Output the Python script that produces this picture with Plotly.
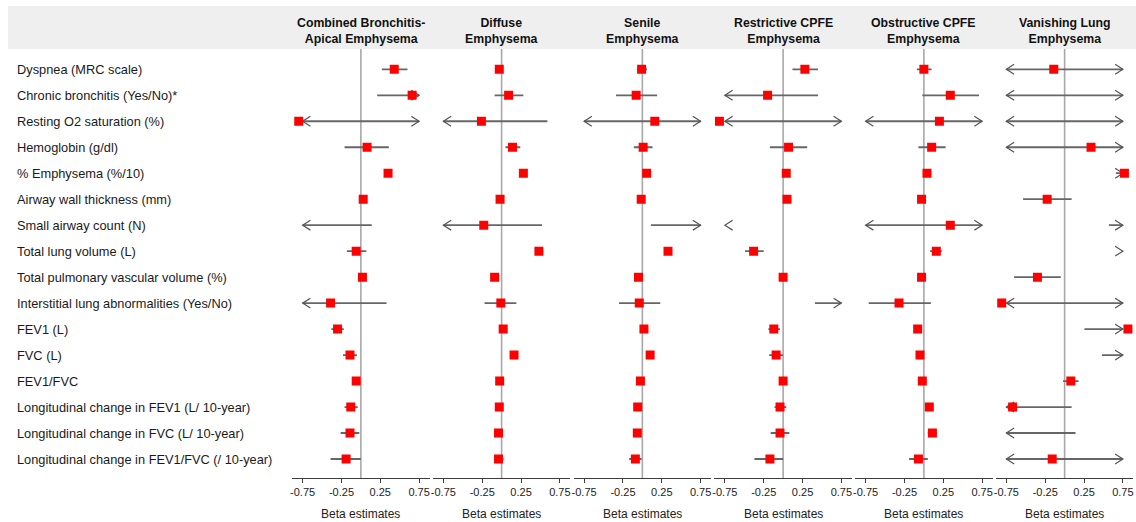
import plotly.graph_objects as go

# Outcome rows (top to bottom)
outcomes = [
    "Dyspnea (MRC scale)",
    "Chronic bronchitis (Yes/No)*",
    "Resting O2 saturation (%)",
    "Hemoglobin (g/dl)",
    "% Emphysema (%/10)",
    "Airway wall thickness (mm)",
    "Small airway count (N)",
    "Total lung volume (L)",
    "Total pulmonary vascular volume (%)",
    "Interstitial lung abnormalities (Yes/No)",
    "FEV1 (L)",
    "FVC (L)",
    "FEV1/FVC",
    "Longitudinal change in FEV1 (L/ 10-year)",
    "Longitudinal change in FVC (L/ 10-year)",
    "Longitudinal change in FEV1/FVC (/ 10-year)",
]

subtypes = [
    "Combined Bronchitis-<br>Apical Emphysema",
    "Diffuse<br>Emphysema",
    "Senile<br>Emphysema",
    "Restrictive CPFE<br>Emphysema",
    "Obstructive CPFE<br>Emphysema",
    "Vanishing Lung<br>Emphysema",
]

tick_vals = [-0.75, -0.25, 0.25, 0.75]
tick_text = ["-0.75", "-0.25", "0.25", "0.75"]

# Beta estimates with 95% CI, one set per emphysema subtype
est_cbae = [0.43, 0.66, -0.80, 0.08, 0.35, 0.03, -1.00, -0.06, 0.02, -0.39, -0.30, -0.14, -0.06, -0.13, -0.14, -0.19]
lo_cbae = [0.27, 0.21, -1.50, -0.21, 0.33, 0.01, -1.30, -0.18, 0.00, -0.90, -0.38, -0.23, -0.08, -0.21, -0.26, -0.39]
hi_cbae = [0.60, 0.90, 0.95, 0.36, 0.37, 0.05, 0.14, 0.07, 0.04, 0.33, -0.22, -0.05, -0.04, -0.04, -0.02, 0.00]

est_diff = [-0.03, 0.09, -0.26, 0.14, 0.28, -0.02, -0.23, 0.48, -0.09, -0.01, 0.02, 0.16, -0.025, -0.03, -0.04, -0.04]
lo_diff = [-0.06, -0.09, -0.90, 0.05, 0.26, -0.04, -0.90, 0.46, -0.11, -0.22, 0.00, 0.14, -0.045, -0.05, -0.06, -0.08]
hi_diff = [0.02, 0.28, 0.59, 0.24, 0.30, 0.00, 0.52, 0.50, -0.07, 0.19, 0.04, 0.18, -0.005, -0.01, -0.02, 0.025]

est_sen = [-0.01, -0.08, 0.16, 0.01, 0.055, -0.015, 1.00, 0.33, -0.05, -0.04, 0.02, 0.10, -0.025, -0.06, -0.065, -0.09]
lo_sen = [-0.07, -0.34, -0.90, -0.11, 0.035, -0.035, 0.11, 0.31, -0.07, -0.30, 0.00, 0.08, -0.045, -0.08, -0.085, -0.17]
hi_sen = [0.06, 0.19, 0.90, 0.13, 0.075, 0.005, 1.30, 0.35, -0.03, 0.23, 0.04, 0.12, -0.005, -0.04, -0.045, -0.01]

est_rcpfe = [0.28, -0.20, -0.82, 0.07, 0.04, 0.05, -1.10, -0.38, 0.00, 0.95, -0.12, -0.09, 0.00, -0.04, -0.04, -0.17]
lo_rcpfe = [0.12, -0.90, -1.60, -0.17, 0.02, 0.03, -1.30, -0.49, -0.02, 0.41, -0.19, -0.18, -0.02, -0.11, -0.16, -0.37]
hi_rcpfe = [0.45, 0.45, 0.90, 0.31, 0.06, 0.07, -0.90, -0.25, 0.02, 1.30, -0.04, 0.00, 0.02, 0.04, 0.08, 0.00]

est_ocpfe = [0.00, 0.34, 0.20, 0.10, 0.04, -0.03, 0.34, 0.16, -0.03, -0.32, -0.08, -0.05, -0.02, 0.07, 0.11, -0.07]
lo_ocpfe = [-0.09, -0.02, -0.90, -0.07, 0.02, -0.05, -0.90, 0.08, -0.05, -0.71, -0.11, -0.10, -0.04, 0.03, 0.05, -0.19]
hi_ocpfe = [0.10, 0.71, 0.90, 0.28, 0.06, -0.01, 0.90, 0.23, -0.01, 0.09, -0.05, -0.01, 0.00, 0.12, 0.17, 0.05]

est_vle = [-0.14, 1.10, -1.10, 0.34, 0.77, -0.225, 1.05, 1.20, -0.35, -0.81, 0.815, 1.00, 0.08, -0.67, -1.05, -0.16]
lo_vle = [-0.90, -0.90, -1.40, -0.90, 0.66, -0.535, 0.57, 0.80, -0.65, -1.60, 0.255, 0.48, -0.02, -0.90, -1.30, -0.90]
hi_vle = [0.90, 1.30, 0.90, 0.90, 1.20, 0.09, 1.30, 1.40, -0.05, 1.20, 1.20, 1.30, 0.18, 0.09, 0.14, 0.90]

panel_data = [
    (est_cbae, lo_cbae, hi_cbae),
    (est_diff, lo_diff, hi_diff),
    (est_sen, lo_sen, hi_sen),
    (est_rcpfe, lo_rcpfe, hi_rcpfe),
    (est_ocpfe, lo_ocpfe, hi_ocpfe),
    (est_vle, lo_vle, hi_vle),
]

# ---- layout geometry (pixels) ----
W, H = 1136, 522
TOP, BOTTOM = 49, 44
PLOT_H = H - TOP - BOTTOM
CLIP = 0.75            # CI lines are cut here and get an arrowhead
XR = 0.885             # visible half-range of each panel
PX_PER_UNIT = 77.8
ZERO_PX = [359.5, 500.5, 641.5, 782.5, 923.5, 1064.5]
ROW0_PX, ROW_STEP = 69.3, 25.98
Y_TOP = (TOP - ROW0_PX) / ROW_STEP
Y_BOT = (H - BOTTOM - ROW0_PX) / ROW_STEP

ARROW_W = 0.10         # arrowhead length in data units
ARROW_H = 0.19         # arrowhead half-height in row units

FONT = "Liberation Sans, Arial, Helvetica, sans-serif"
CI_COLOR = "#666666"
AXIS_COLOR = "#3c3c3c"

fig = go.Figure()
rows = list(range(len(outcomes)))

for k, (est, lo, hi) in enumerate(panel_data):
    xa = "x" if k == 0 else f"x{k + 1}"
    seg_x, seg_y, head_x, head_y = [], [], [], []
    for r in rows:
        a, b = max(lo[r], -CLIP), min(hi[r], CLIP)
        if a < b:
            seg_x += [a, b, None]
            seg_y += [r, r, None]
        if lo[r] < -CLIP:
            head_x += [-CLIP + ARROW_W, -CLIP, -CLIP + ARROW_W, None]
            head_y += [r - ARROW_H, r, r + ARROW_H, None]
        if hi[r] > CLIP:
            head_x += [CLIP - ARROW_W, CLIP, CLIP - ARROW_W, None]
            head_y += [r - ARROW_H, r, r + ARROW_H, None]

    fig.add_trace(go.Scatter(x=seg_x, y=seg_y, mode="lines", xaxis=xa, yaxis="y",
                             line=dict(color=CI_COLOR, width=1.8), hoverinfo="skip",
                             showlegend=False))
    fig.add_trace(go.Scatter(x=head_x, y=head_y, mode="lines", xaxis=xa, yaxis="y",
                             line=dict(color="#555555", width=1.2), hoverinfo="skip",
                             showlegend=False))
    fig.add_trace(go.Scatter(x=est, y=rows, mode="markers", xaxis=xa, yaxis="y",
                             marker=dict(symbol="square", size=9, color="#ff0000",
                                         line=dict(width=0)),
                             cliponaxis=True, hoverinfo="skip", showlegend=False))

    lo_px = ZERO_PX[k] - XR * PX_PER_UNIT
    hi_px = ZERO_PX[k] + XR * PX_PER_UNIT
    axis_cfg = dict(
        domain=[lo_px / W, hi_px / W], range=[-XR, XR], anchor="y",
        tickvals=tick_vals, ticktext=tick_text, ticks="outside", ticklen=4,
        tickcolor=AXIS_COLOR, tickwidth=1, showline=True, linecolor=AXIS_COLOR,
        linewidth=1.2, showgrid=False, zeroline=False, fixedrange=True,
        tickfont=dict(family=FONT, size=11, color="#222222"),
    )
    fig.update_layout(**{("xaxis" if k == 0 else f"xaxis{k + 1}"): axis_cfg})

    # reference line at zero
    fig.add_shape(type="line", xref=xa, yref="paper", x0=0, x1=0, y0=0, y1=1,
                  line=dict(color="#a8a8a8", width=1.6), layer="below")

    # panel heading and axis caption
    fig.add_annotation(text=f"<b>{subtypes[k]}</b>", xref="paper", yref="paper",
                       x=ZERO_PX[k] / W, y=1 + (TOP - 31) / PLOT_H,
                       xanchor="center", yanchor="middle", showarrow=False,
                       font=dict(family=FONT, size=12.3, color="#111111"))
    fig.add_annotation(text="Beta estimates", xref="paper", yref="paper",
                       x=ZERO_PX[k] / W, y=-(514.3 - (H - BOTTOM)) / PLOT_H,
                       xanchor="center", yanchor="middle", showarrow=False,
                       font=dict(family=FONT, size=12, color="#222222"))

# outcome labels on the left
for r, name in enumerate(outcomes):
    fig.add_annotation(text=name, xref="paper", yref="y", x=13 / W, y=r,
                       xanchor="left", yanchor="middle", showarrow=False,
                       font=dict(family=FONT, size=12.8, color="#1a1a1a"))

# grey heading band
fig.add_shape(type="rect", xref="paper", yref="paper", x0=6 / W, x1=1,
              y0=1, y1=1 + (TOP - 6) / PLOT_H, fillcolor="#efefef",
              line=dict(width=0), layer="below")

fig.update_layout(
    width=W, height=H,
    margin=dict(l=0, r=0, t=TOP, b=BOTTOM),
    paper_bgcolor="white", plot_bgcolor="white",
    yaxis=dict(range=[Y_BOT, Y_TOP], visible=False, fixedrange=True),
    hovermode=False,
    font=dict(family=FONT),
)

fig.write_html("out.html", config={"displayModeBar": False})
